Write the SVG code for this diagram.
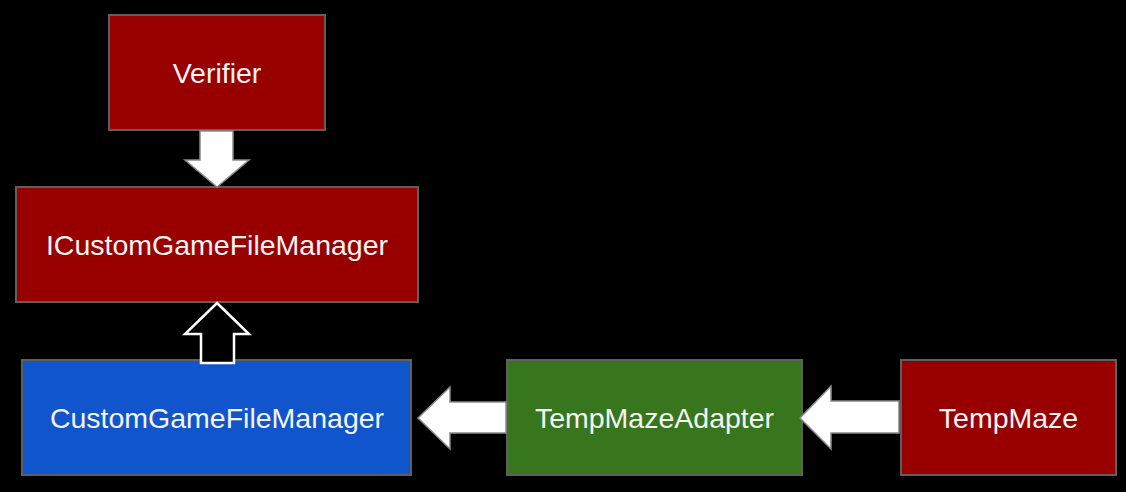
<svg xmlns="http://www.w3.org/2000/svg" width="1126" height="492" viewBox="0 0 1126 492">
<style>
.box{stroke:#5f5f5f;stroke-width:2}
.red{fill:#980000}
.blue{fill:#1155cc}
.green{fill:#38761d}
.lbl{font-family:"Liberation Sans",Arial,sans-serif;font-size:28.5px;fill:#f4f4f4;text-anchor:middle}
.arr{fill:#ffffff;stroke:#8a8a8a;stroke-width:1.5;stroke-linejoin:miter}
.hollow{fill:#000000;stroke:#ffffff;stroke-width:2.5;stroke-linejoin:miter}
</style>
<rect width="1126" height="492" fill="#000000"/>
<g id="verifier">
<rect class="box red" x="109" y="15" width="216" height="115"/>
<text class="lbl" x="217" y="83">Verifier</text>
</g>
<g id="icustomgamefilemanager">
<rect class="box red" x="16" y="187" width="402" height="115"/>
<text class="lbl" x="217" y="255">ICustomGameFileManager</text>
</g>
<g id="customgamefilemanager">
<rect class="box blue" x="22" y="360" width="389" height="115"/>
<text class="lbl" x="217" y="428">CustomGameFileManager</text>
</g>
<g id="tempmazeadapter">
<rect class="box green" x="507" y="360" width="295" height="115"/>
<text class="lbl" x="654.5" y="428">TempMazeAdapter</text>
</g>
<g id="tempmaze">
<rect class="box red" x="901" y="360" width="215" height="115"/>
<text class="lbl" x="1008.5" y="428">TempMaze</text>
</g>
<g id="connectors">
<path class="arr" d="M200,131 L233,131 L233,160 L249,160 L217,187 L185,160 L200,160 Z"/>
<path class="hollow" d="M217,303 L249,334 L234,334 L234,363 L201,363 L201,334 L185,334 Z"/>
<path class="arr" d="M506,402 L450,402 L450,387 L418,418 L450,449 L450,433 L506,433 Z"/>
<path class="arr" d="M899,401 L831,401 L831,386 L800,418 L831,449 L831,433 L899,433 Z"/>
</g>
</svg>
